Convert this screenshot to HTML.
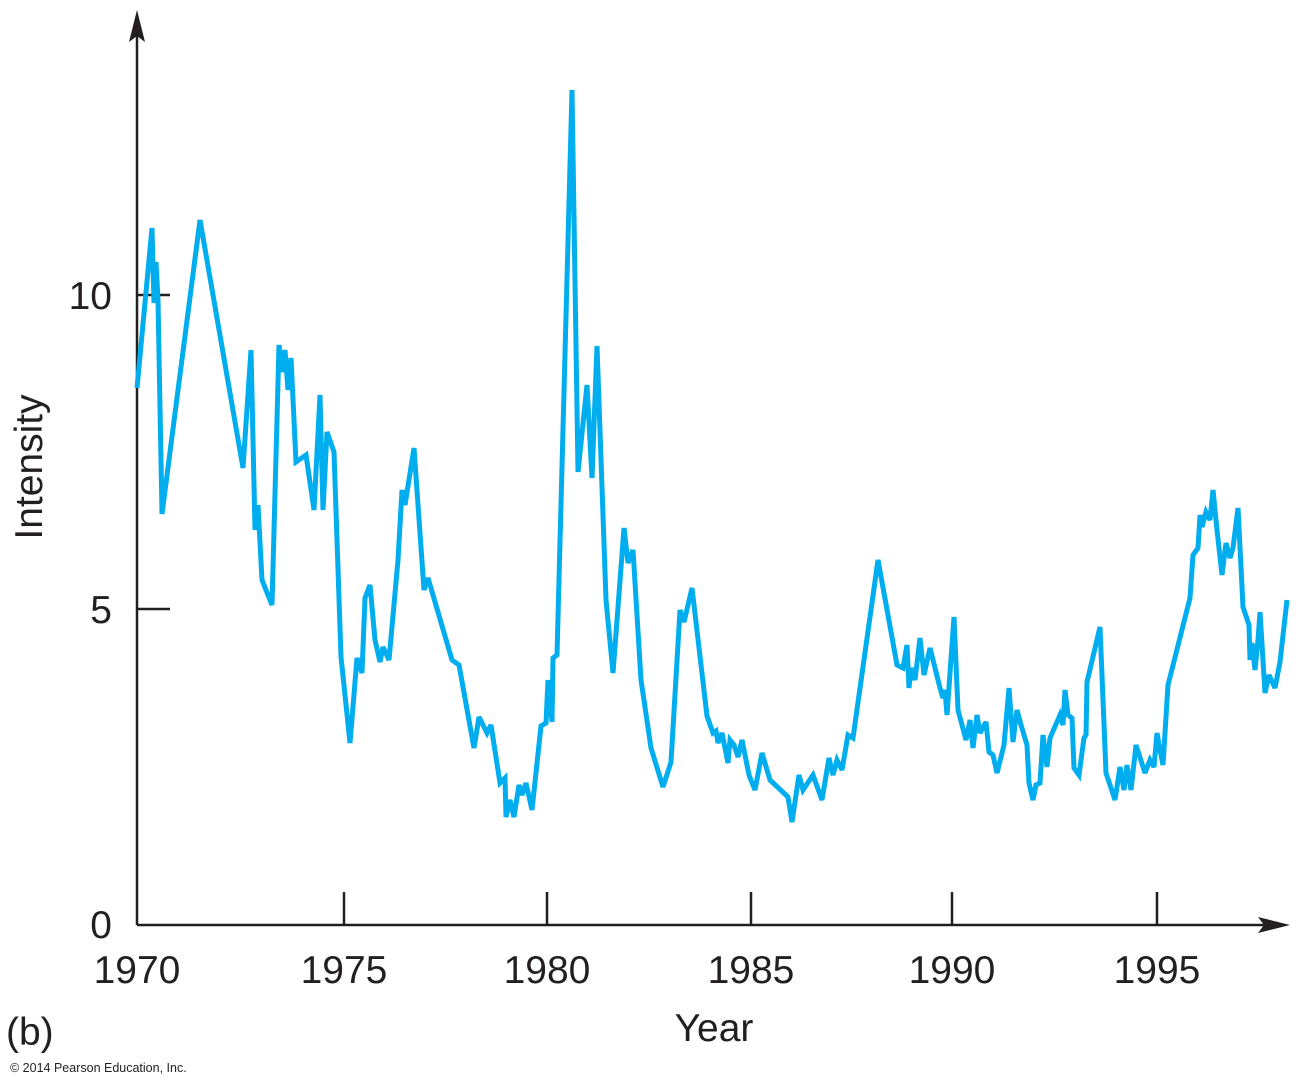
<!DOCTYPE html>
<html><head><style>
html,body{margin:0;padding:0;background:#fff;}
svg{display:block;}
text{font-family:"Liberation Sans",Arial,sans-serif;fill:#231f20;}
</style></head><body>
<svg width="1301" height="1088" viewBox="0 0 1301 1088" xmlns="http://www.w3.org/2000/svg">
<g stroke="#231f20" stroke-width="2.5" fill="none">
<line x1="137" y1="925" x2="137" y2="30"/>
<line x1="137" y1="925" x2="1270" y2="925"/>
<line x1="137" y1="295" x2="170" y2="295"/>
<line x1="137" y1="609" x2="170" y2="609"/>
<line x1="344" y1="925" x2="344" y2="892"/>
<line x1="547" y1="925" x2="547" y2="892"/>
<line x1="751" y1="925" x2="751" y2="892"/>
<line x1="952" y1="925" x2="952" y2="892"/>
<line x1="1157" y1="925" x2="1157" y2="892"/>
</g>
<polygon points="137,10 129,42 137,36 145,42" fill="#231f20"/>
<polygon points="1290,925 1258,917 1264,925 1258,933" fill="#231f20"/>
<polyline fill="none" stroke="#00aeef" stroke-width="5" stroke-linejoin="miter" stroke-miterlimit="3" points="137,388 152,228 154,303 156,262 158,300 162,514 200,220 243,468 251,350 255,530 258,505 262,580 272,605 279,345 282,372 285,350 288,390 291,358 296,462 306,455 314,510 320,395 323,510 327,432 334,452 341,657 350,743 357,658 362,673 365,598 370,585 375,640 380,662 383,647 389,660 398,560 402,490 405,505 414,448 424,590 428,578 452,660 459,665 474,748 479,717 487,733 491,725 500,783 505,778 506,817 510,800 514,817 519,785 522,795 526,783 532,810 541,726 546,723 548,680 552,722 553,658 557,655 572,90 578,472 587,385 592,478 597,346 606,600 613,673 624,528 628,563 633,550 641,680 651,748 663,787 671,762 680,610 684,622 692,588 707,716 713,733 716,731 718,743 722,733 728,763 730,740 734,745 738,757 742,740 746,760 749,775 755,790 762,753 770,780 788,797 792,822 799,775 803,790 813,775 822,800 829,758 833,775 837,760 842,770 848,735 853,738 878,560 897,665 903,668 907,645 909,688 911,668 915,680 920,638 924,675 930,648 940,688 943,698 945,690 947,715 954,617 958,710 966,740 970,720 973,748 977,715 980,733 986,722 989,752 993,755 997,773 1004,745 1009,688 1013,742 1017,710 1021,725 1027,745 1029,783 1033,800 1036,785 1040,783 1043,735 1047,767 1050,738 1060,715 1063,725 1065,690 1068,715 1072,718 1074,768 1079,775 1084,738 1086,735 1087,682 1100,627 1106,773 1115,800 1120,767 1124,790 1127,765 1131,790 1136,745 1145,773 1150,760 1154,767 1157,733 1160,750 1163,765 1168,685 1190,598 1193,555 1198,548 1200,515 1202,527 1206,512 1210,520 1213,490 1217,530 1222,575 1226,543 1230,558 1233,548 1238,508 1243,607 1249,625 1250,660 1252,643 1255,670 1258,640 1260,612 1265,693 1269,675 1275,688 1280,662 1287,600"/>
<g font-size="39">
<text x="112" y="309" text-anchor="end">10</text>
<text x="112" y="623" text-anchor="end">5</text>
<text x="112" y="938" text-anchor="end">0</text>
<text x="137" y="983" text-anchor="middle">1970</text>
<text x="344" y="983" text-anchor="middle">1975</text>
<text x="547" y="983" text-anchor="middle">1980</text>
<text x="751" y="983" text-anchor="middle">1985</text>
<text x="952" y="983" text-anchor="middle">1990</text>
<text x="1157" y="983" text-anchor="middle">1995</text>
<text x="714" y="1041" text-anchor="middle">Year</text>
<text x="42" y="467" text-anchor="middle" transform="rotate(-90 42 467)">Intensity</text>
<text x="6" y="1045">(b)</text>
</g>
<text x="10" y="1072" font-size="12.5">© 2014 Pearson Education, Inc.</text>
</svg>
</body></html>
